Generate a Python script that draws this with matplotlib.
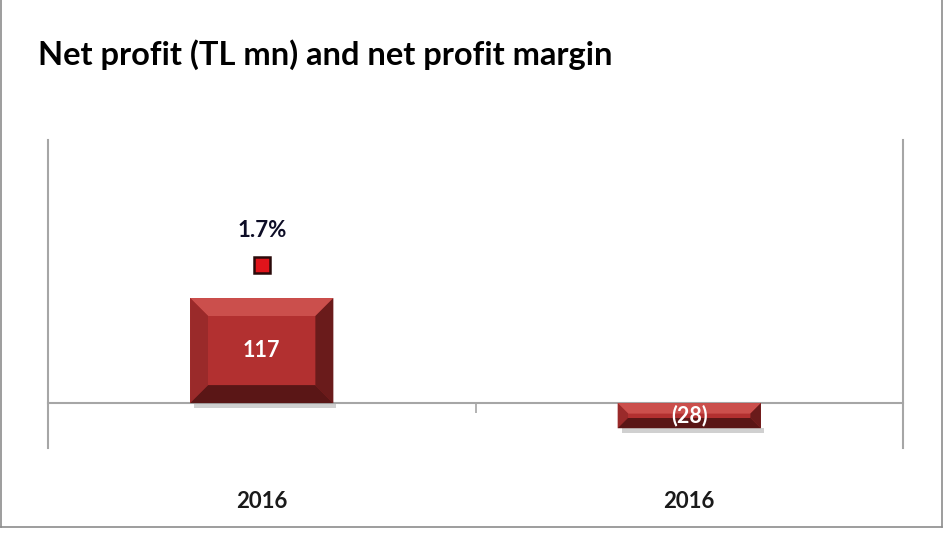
import matplotlib
matplotlib.use("Agg")
import matplotlib.pyplot as plt
from matplotlib.patches import Polygon
from matplotlib.lines import Line2D

# ---------------- DATA ----------------
years = ["2016", "2016"]
net_profit = [117, -28]
profit_labels = ["117", "(28)"]
margin_idx = [0]
margin = [1.7]
margin_labels = ["1.7%"]
# --------------------------------------

plt.rcParams["font.family"] = ["Lato", "DejaVu Sans"]

fig = plt.figure(figsize=(9.43, 5.33), dpi=100)
ax = fig.add_axes([0.0509, 0.1595, 0.9067, 0.5778])

x = list(range(len(years)))
bars = ax.bar(x, net_profit, width=0.335, color="#b53131", zorder=3)
ax.set_xlim(-0.5, 1.5)
ax.set_ylim(-50, 293)

# spines / zero line
ax.spines["top"].set_visible(False)
ax.spines["bottom"].set_position(("data", 0))
for s in ["left", "right", "bottom"]:
    ax.spines[s].set_color("#a6a6a6")
    ax.spines[s].set_linewidth(1.5)
ax.set_yticks([])
ax.set_xticks([0.5])
ax.set_xticklabels([])
ax.tick_params(axis="x", direction="out", length=7, width=1.2, color="#a6a6a6")

# bevel effect for each bar
fig.canvas.draw()
inv = ax.transData.inverted()
for b in bars:
    x0, x1 = b.get_x(), b.get_x() + b.get_width()
    y0, y1 = sorted([b.get_y(), b.get_y() + b.get_height()])
    p0 = ax.transData.transform((x0, y0))
    p1 = ax.transData.transform((x1, y1))
    bev = min(18, (p1[1] - p0[1]) / 2.4)
    i0 = inv.transform((p0[0] + bev, p0[1] + bev))
    i1 = inv.transform((p1[0] - bev, p1[1] - bev))
    sh0 = inv.transform((p0[0] + 4, p0[1] - 5))
    sh1 = inv.transform((p1[0] + 3, p0[1]))
    ax.add_patch(Polygon([(sh0[0], sh0[1]), (sh1[0], sh0[1]), (sh1[0], sh1[1]),
                          (sh0[0], sh1[1])], closed=True, color="#d0d0d0", zorder=2, lw=0))
    faces = [
        ([(x0, y1), (x1, y1), (i1[0], i1[1]), (i0[0], i1[1])], "#cb4f4c"),   # top
        ([(x0, y0), (x0, y1), (i0[0], i1[1]), (i0[0], i0[1])], "#9a2a2a"),   # left
        ([(x1, y0), (x1, y1), (i1[0], i1[1]), (i1[0], i0[1])], "#6a1b1b"),   # right
        ([(x0, y0), (x1, y0), (i1[0], i0[1]), (i0[0], i0[1])], "#5a1616"),   # bottom
        ([(i0[0], i0[1]), (i1[0], i0[1]), (i1[0], i1[1]), (i0[0], i1[1])], "#b23030"),
    ]
    for pts, c in faces:
        ax.add_patch(Polygon(pts, closed=True, facecolor=c, edgecolor="none", zorder=4))

for xi, v, lab in zip(x, net_profit, profit_labels):
    ax.text(xi, v / 2, lab, ha="center", va="center", color="white",
            fontsize=15.5, fontweight="bold", zorder=6)

# margin on secondary axis
ax2 = ax.twinx()
ax2.set_ylim(-0.554, 3.24)
ax2.set_yticks([])
for s in ax2.spines.values():
    s.set_visible(False)
ax2.plot(margin_idx, margin, linestyle="none", marker="s", markersize=11,
         markerfacecolor="#e0141b", markeredgecolor="#2a0a0a", markeredgewidth=1.8, zorder=5)
for xi, v, lab in zip(margin_idx, margin, margin_labels):
    ax2.annotate(lab, (xi, v), xytext=(0, 17), textcoords="offset points", ha="center",
                 va="bottom", fontsize=16, fontweight="bold", color="#0d0d26")

# category labels below the plot
for xi, lab in zip(x, years):
    ax.text(xi, -0.175, lab, transform=ax.get_xaxis_transform(), ha="center", va="center",
            fontsize=16, fontweight="bold", color="#1a1a1a")

# title
fig.text(0.040, 0.897, "Net profit (TL mn) and net profit margin", ha="left", va="center",
         fontsize=23.5, fontweight="bold", color="black")

# outer frame (left, right, bottom)
frame = dict(color="#8c8c8c", lw=1.2, transform=fig.transFigure)
fig.add_artist(Line2D([0.001, 0.001], [0.012, 1.0], **frame))
fig.add_artist(Line2D([0.999, 0.999], [0.012, 1.0], **frame))
fig.add_artist(Line2D([0.001, 0.999], [0.012, 0.012], **frame))

fig.savefig("out.png", dpi=100)
